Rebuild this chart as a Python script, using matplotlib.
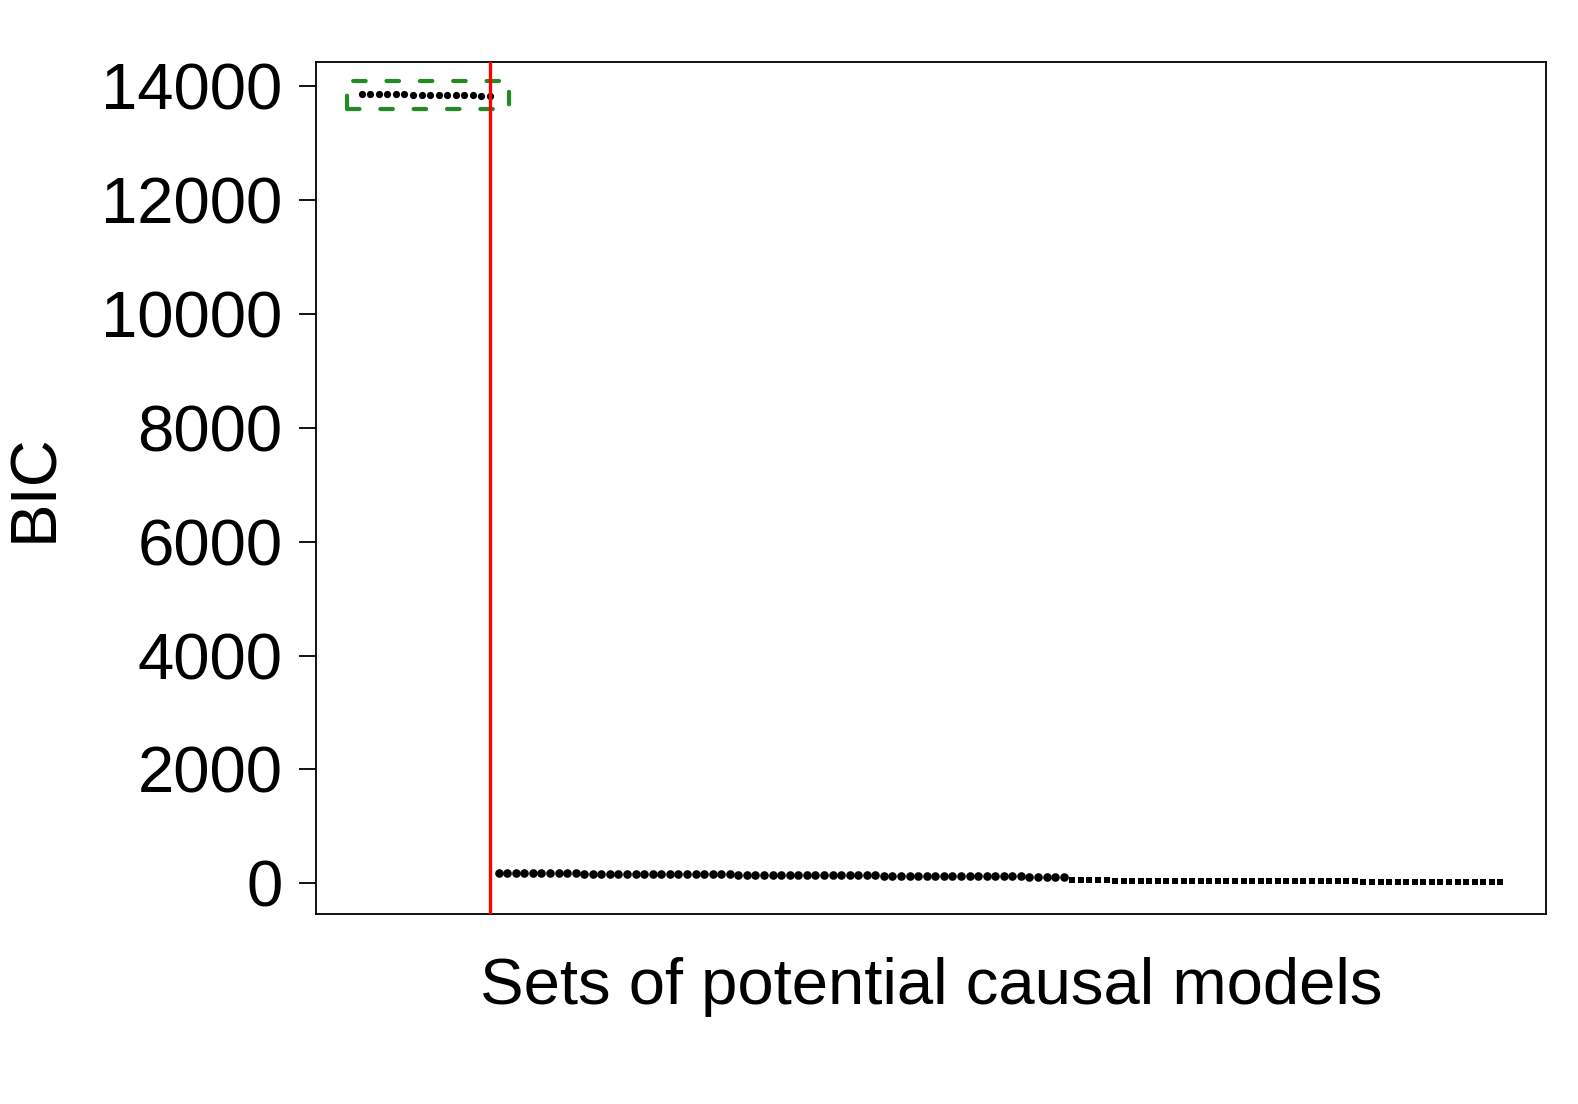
import matplotlib.pyplot as plt
from matplotlib.patches import Rectangle

plt.rcParams['font.family'] = ['Liberation Sans', 'DejaVu Sans']

# --- data ---
# BIC of each candidate model, sorted; three visually distinct groups
bic_group1 = [13868, 13867, 13865, 13863, 13861, 13859, 13857, 13855,
              13853, 13851, 13849, 13847, 13845, 13842, 13839, 13836]
bic_group2 = [181, 180, 179, 178, 177, 176, 176, 175, 174, 173, 172, 171,
              170, 169, 168, 167, 166, 165, 164, 163, 162, 161, 160, 159,
              158, 157, 156, 155, 154, 153, 152, 151, 150, 149, 148, 147,
              146, 145, 144, 143, 142, 141, 140, 139, 138, 137, 136, 135,
              134, 133, 132, 131, 130, 129, 128, 127, 126, 125, 124, 123,
              122, 120, 118, 116, 114, 112, 111]
bic_group3 = [52, 51, 51, 50, 50, 49, 49, 48, 48, 47, 47, 46, 46, 45, 45,
              44, 44, 43, 43, 42, 42, 41, 41, 40, 40, 39, 38, 37, 36, 35,
              35, 34, 33, 32, 31, 30, 30, 29, 28, 27, 26, 25, 25, 24, 23,
              22, 21, 20, 18, 16, 15]

# red separator after the last model of group 1, dashed box around group 1
box_x = (-0.7, 18.2)
box_y = (13610, 14100)
yticks = [0, 2000, 4000, 6000, 8000, 10000, 12000, 14000]

n1, n2, n3 = len(bic_group1), len(bic_group2), len(bic_group3)
x1 = list(range(1, n1 + 1))
x2 = list(range(n1 + 1, n1 + n2 + 1))
x3 = list(range(n1 + n2 + 1, n1 + n2 + n3 + 1))
n_all = n1 + n2 + n3
all_vals = bic_group1 + bic_group2 + bic_group3

fig = plt.figure(figsize=(15.78, 11.04), dpi=100)
ax = fig.add_axes([0.2003, 0.1721, 0.7794, 0.7714])

ax.plot(x1, bic_group1, 'o', color='black', ms=5.2, mew=0)
ax.plot(x2, bic_group2, 'o', color='black', ms=6.2, mew=0)
ax.plot(x3, bic_group3, 's', color='black', ms=4.6, mew=0)

ax.axvline(n1, color='#ff0000', lw=2.4, zorder=3)

rect = Rectangle((box_x[0], box_y[0]), box_x[1] - box_x[0], box_y[1] - box_y[0],
                 fill=False, edgecolor='#228b22', lw=3.0,
                 linestyle=(0, (3.0, 5.0)), capstyle='round')
ax.add_patch(rect)

# R-style 4% padding
xpad = 0.04 * (n_all - 1)
ax.set_xlim(1 - xpad, n_all + xpad)
ymin, ymax = min(all_vals), max(all_vals)
ypad = 0.04 * (ymax - ymin)
ax.set_ylim(ymin - ypad, ymax + ypad)

ax.set_xticks([])
ax.set_yticks(yticks)
ax.set_yticklabels([str(v) for v in yticks])
ax.tick_params(axis='y', length=12.2, width=1.3, pad=12, labelsize=47)
for s in ax.spines.values():
    s.set_linewidth(1.3)

fig.text(0.0225, 0.558, 'BIC', rotation=90, ha='center', va='center', fontsize=47)
fig.text(0.590, 0.106, 'Sets of potential causal models', ha='center', va='center',
         fontsize=47)

fig.savefig('out.png', dpi=100)
